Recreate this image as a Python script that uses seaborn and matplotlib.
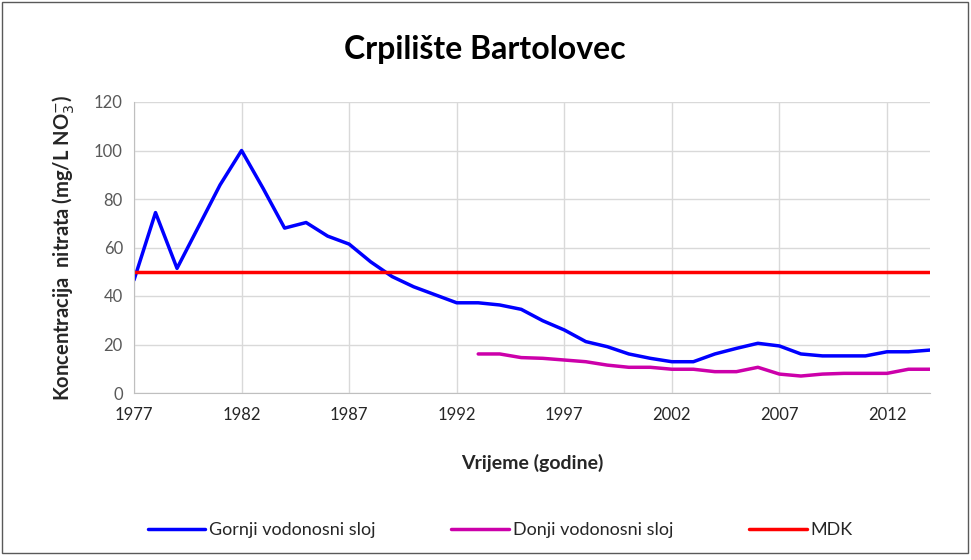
import numpy as np
import pandas as pd
import matplotlib.pyplot as plt
import seaborn as sns

# Data
years = list(range(1977, 2015))
gornji = [46.6, 74.4, 51.4, 68.6, 85.8, 100.0, 84.4, 68.0, 70.3, 64.7,
          61.4, 54.1, 48.0, 43.8, 40.5, 37.2, 37.2, 36.3, 34.5, 29.8,
          26.0, 21.2, 19.1, 16.1, 14.3, 12.9, 12.9, 16.1, 18.4, 20.5,
          19.4, 16.1, 15.3, 15.3, 15.3, 17.0, 17.0, 17.7]
donji_years = list(range(1993, 2015))
donji = [16.1, 16.1, 14.6, 14.3, 13.6, 12.9, 11.5, 10.6, 10.6, 9.8,
         9.8, 8.8, 8.8, 10.6, 7.8, 7.0, 7.8, 8.1, 8.1, 8.1, 9.8, 9.8]
mdk = [50] * len(years)

xticks = [1977, 1982, 1987, 1992, 1997, 2002, 2007, 2012]
yticks = [0, 20, 40, 60, 80, 100, 120]

sns.set_style('white')
plt.rcParams['font.family'] = ['Lato', 'DejaVu Sans']

fig = plt.figure(figsize=(9.71, 5.6), dpi=100)
ax = fig.add_axes([134 / 971, 1 - 393 / 560, (930 - 134) / 971, (393 - 102) / 560])

sns.lineplot(x=years, y=gornji, ax=ax, color='#0000ff', linewidth=2.5,
             label='Gornji vodonosni sloj')
sns.lineplot(x=donji_years, y=donji, ax=ax, color='#cc00aa', linewidth=2.5,
             label='Donji vodonosni sloj')
sns.lineplot(x=years, y=mdk, ax=ax, color='#ff0000', linewidth=2.5,
             label='MDK')

ax.set_xlim(1977, 2014)
ax.set_ylim(0, 120)
ax.set_xticks(xticks)
ax.set_yticks(yticks)
ax.grid(True, color='#d9d9d9', linewidth=1)
ax.set_axisbelow(True)
for s in ['top', 'right']:
    ax.spines[s].set_visible(False)
for s in ['left', 'bottom']:
    ax.spines[s].set_color('#bfbfbf')
ax.tick_params(axis='y', colors='#595959', labelsize=12, length=0, pad=8)
ax.tick_params(axis='x', colors='#404040', labelsize=12, length=0, pad=10)
for t in ax.get_xticklabels():
    t.set_color('#262626')

ax.set_xlabel('Vrijeme (godine)', fontsize=14, fontweight='bold', labelpad=22)
ax.set_ylabel('Koncentracija  nitrata (mg/L NO$_3^{-}$)', fontsize=14.5,
              fontweight='bold', labelpad=12)

fig.text(485 / 971, 1 - 50 / 560, 'Crpilište Bartolovec', ha='center', va='center',
         fontsize=23, fontweight='bold', color='#000000')

handles, labels = ax.get_legend_handles_labels()
ax.get_legend().remove()
fig.legend(handles, labels, loc='center', bbox_to_anchor=(500 / 971, 1 - 530 / 560),
           ncol=3, frameon=False, fontsize=13, handlelength=3.2, columnspacing=4.2,
           handletextpad=0.2)

# outer chart border
fig.add_artist(plt.Rectangle((0.002, 0.012), 0.995, 0.985, transform=fig.transFigure,
                             fill=False, edgecolor='#595959', linewidth=1))

fig.savefig('out.png', dpi=100)
